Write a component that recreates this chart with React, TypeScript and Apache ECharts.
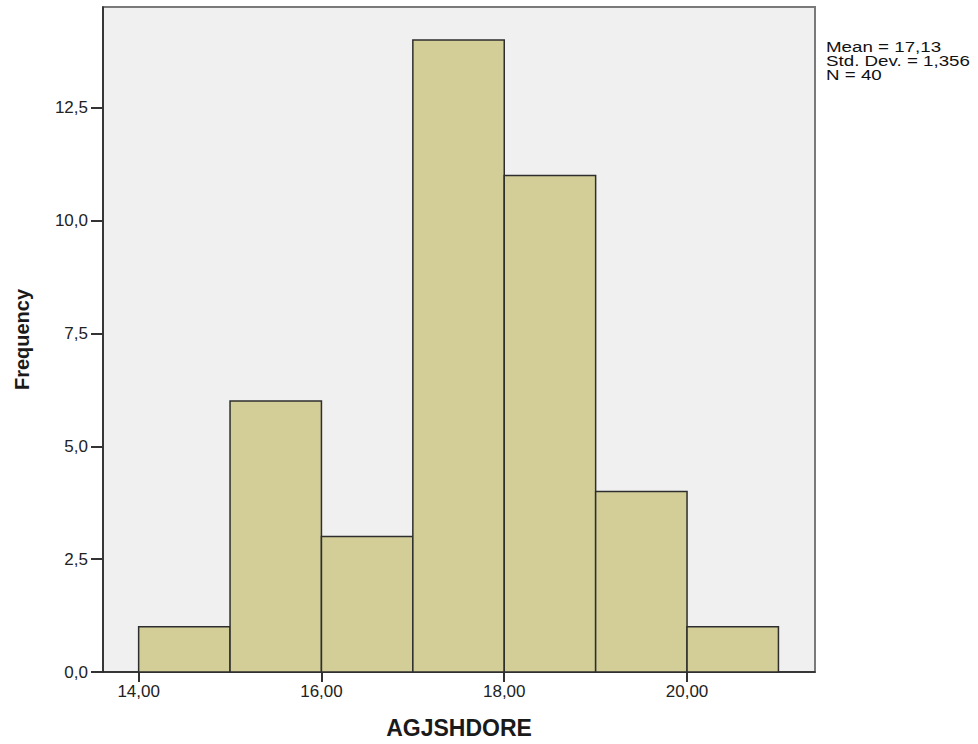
import React, { useEffect, useRef } from "react";
import * as echarts from "echarts";

const binStarts = [14, 15, 16, 17, 18, 19, 20];
const binWidth = 1;
const frequencies = [1, 6, 3, 14, 11, 4, 1];
const xTicks = [14, 16, 18, 20];
const yTicks = [0, 2.5, 5, 7.5, 10, 12.5];
const statsLines = ["Mean = 17,13", "Std. Dev. = 1,356", "N = 40"];
const xTitle = "AGJSHDORE";
const yTitle = "Frequency";

const FONT = "'Liberation Sans', Arial, sans-serif";

export default function App() {
  const ref = useRef<HTMLDivElement>(null);
  useEffect(() => {
    if (!ref.current) return;
    const chart = echarts.init(ref.current, null, { renderer: "svg" });
    const data = binStarts.map((s, i) => [s, s + binWidth, frequencies[i]]);
    chart.setOption({
      animation: false,
      backgroundColor: "#ffffff",
      textStyle: { fontFamily: FONT },
      grid: {
        left: 103,
        top: 7,
        right: 163,
        bottom: 71,
        show: true,
        backgroundColor: "#f0f0f0",
        borderColor: "#7a7a7a",
        borderWidth: 2,
      },
      xAxis: {
        type: "value",
        min: 13.61,
        max: 21.4,
        name: xTitle,
        nameLocation: "middle",
        nameGap: 44,
        nameTextStyle: { fontFamily: FONT, fontSize: 23, fontWeight: "bold", color: "#1a1a1a" },
        axisLine: { show: true, onZero: false, lineStyle: { color: "#222", width: 1.5 } },
        axisTick: { show: true, length: 10, customValues: xTicks, lineStyle: { color: "#333", width: 2 } },
        axisLabel: {
          customValues: xTicks,
          margin: 11,
          fontSize: 17,
          color: "#222",
          fontFamily: FONT,
          formatter: (v: number) => v.toFixed(2).replace(".", ","),
        },
        splitLine: { show: false },
      },
      yAxis: {
        type: "value",
        min: 0,
        max: 14.73,
        name: yTitle,
        nameLocation: "middle",
        nameGap: 71,
        nameRotate: 90,
        nameTextStyle: { fontFamily: FONT, fontSize: 20, fontWeight: "bold", color: "#1a1a1a" },
        axisLine: { show: true, lineStyle: { color: "#222", width: 1.5 } },
        axisTick: { show: true, length: 12, customValues: yTicks, lineStyle: { color: "#333", width: 2 } },
        axisLabel: {
          customValues: yTicks,
          margin: 15,
          fontSize: 17,
          color: "#222",
          fontFamily: FONT,
          formatter: (v: number) => v.toFixed(1).replace(".", ","),
        },
        splitLine: { show: false },
      },
      series: [
        {
          type: "custom",
          data,
          encode: { x: [0, 1], y: 2 },
          renderItem: (params: any, api: any) => {
            const p0 = api.coord([api.value(0), 0]);
            const p1 = api.coord([api.value(1), api.value(2)]);
            return {
              type: "rect",
              shape: { x: p0[0], y: p1[1], width: p1[0] - p0[0], height: p0[1] - p1[1] },
              style: { fill: "#d3ce98", stroke: "#2e2e2e", lineWidth: 1.5 },
            };
          },
          z: 1,
        },
      ],
      graphic: [
        {
          type: "text",
          x: 826,
          y: 40,
          scaleX: 1.25,
          style: {
            text: statsLines.join("\n"),
            font: `15px ${FONT}`,
            lineHeight: 14,
            fill: "#111",
          },
        },
      ],
    });
    return () => chart.dispose();
  }, []);
  return <div ref={ref} style={{ width: 978, height: 744, position: "absolute", left: 0, top: 0 }} />;
}
